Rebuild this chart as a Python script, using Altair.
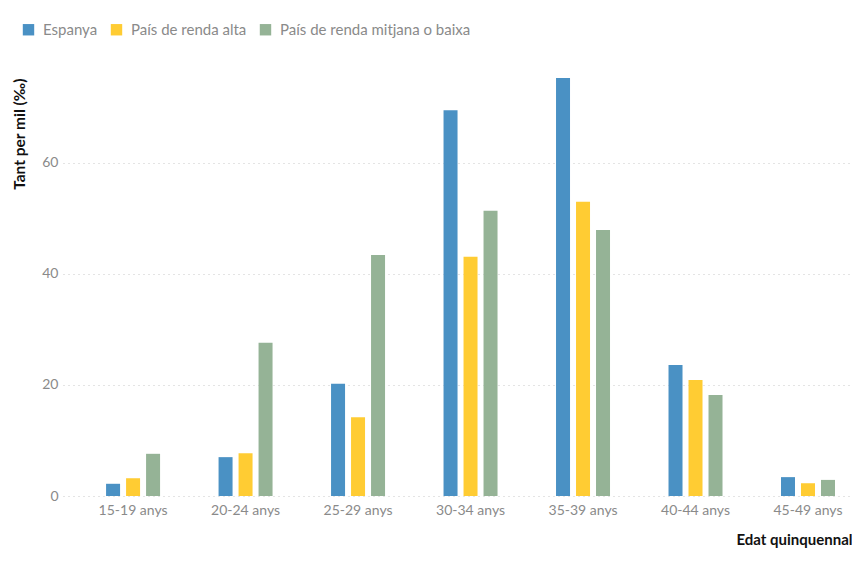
import altair as alt
import pandas as pd

ages = ["15-19 anys", "20-24 anys", "25-29 anys", "30-34 anys", "35-39 anys", "40-44 anys", "45-49 anys"]
series = ["Espanya", "País de renda alta", "País de renda mitjana o baixa"]
espanya = [2.2, 7.0, 20.2, 69.5, 75.3, 23.6, 3.4]
renda_alta = [3.2, 7.7, 14.2, 43.1, 53.0, 20.9, 2.3]
renda_mitjana = [7.6, 27.6, 43.4, 51.4, 47.9, 18.2, 2.9]
colors = ["#4a91c4", "#ffcc33", "#95b396"]

rows = []
for name, vals in zip(series, [espanya, renda_alta, renda_mitjana]):
    for a, v in zip(ages, vals):
        rows.append({"edat": a, "serie": name, "valor": v})
df = pd.DataFrame(rows)

FONT = "Lato"

chart = alt.Chart(df).mark_bar().encode(
    x=alt.X("edat:N", sort=ages,
            scale=alt.Scale(paddingInner=0.52, paddingOuter=0.267, align=0.717),
            axis=alt.Axis(title="Edat quinquennal", labelAngle=0, ticks=False, domain=False,
                          grid=False, labelPadding=7, labelFontSize=14, labelColor="#8a8a8a",
                          titleAnchor="end", titleAlign="right", titleFontSize=15,
                          titleFontWeight="bold", titleColor="#111111", titlePadding=15)),
    xOffset=alt.XOffset("serie:N", sort=series, scale=alt.Scale(paddingInner=0.3, paddingOuter=0)),
    y=alt.Y("valor:Q", scale=alt.Scale(nice=False, domain=[0, 75.3]),
            axis=alt.Axis(title="Tant per mil (‰)", values=[0, 20, 40, 60], ticks=False, domain=False,
                          grid=True, gridDash=[1, 4], gridColor="#c8c8c8", labelPadding=5,
                          labelFontSize=14, labelColor="#8a8a8a", titleAnchor="end",
                          titleFontSize=15.5, titleFontWeight="bold", titleColor="#111111",
                          titlePadding=14)),
    color=alt.Color("serie:N", sort=series, scale=alt.Scale(domain=series, range=colors),
                    legend=alt.Legend(title=None, orient="none", direction="horizontal",
                                      legendX=-42, legendY=-56, symbolType="square",
                                      symbolSize=130, symbolStrokeWidth=0, labelFontSize=15,
                                      labelLimit=400, labelColor="#8a8a8a", columnPadding=11,
                                      labelOffset=7)),
).properties(
    width=789, height=418, padding={"left": 4, "top": 14, "right": 0, "bottom": 5}
).configure(font=FONT).configure_view(stroke=None)

chart.save("out.html", embed_options={"renderer": "svg", "actions": False})
